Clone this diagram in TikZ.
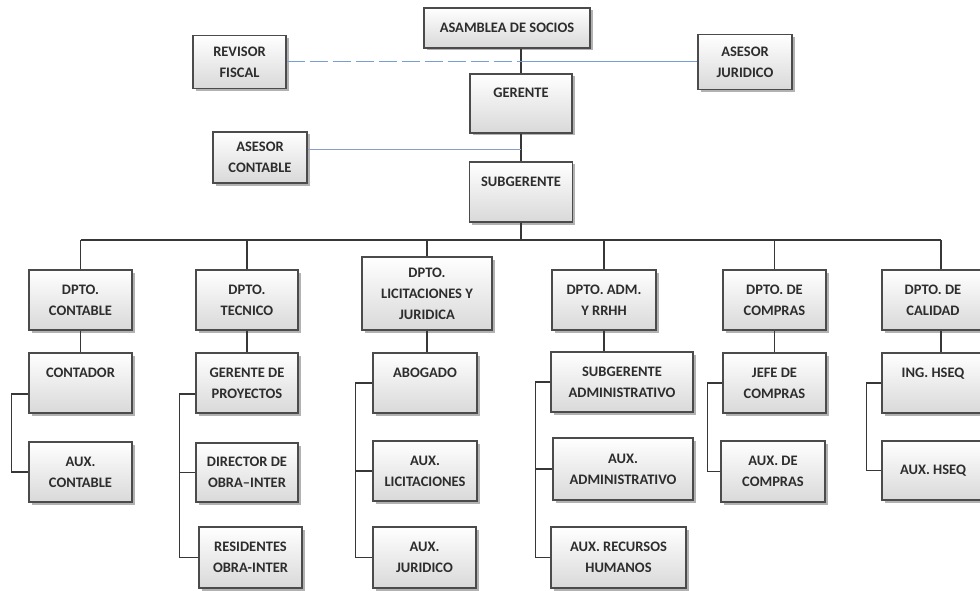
\documentclass[tikz,border=0pt]{standalone}
\usepackage{fontspec}
\setmainfont{Carlito}
\usetikzlibrary{shadows}
\definecolor{txt}{RGB}{45,45,45}
\definecolor{bord}{RGB}{75,75,75}
\definecolor{lnk}{RGB}{55,55,55}
\definecolor{linkblue}{RGB}{120,158,212}
\definecolor{linkgrey}{RGB}{140,158,200}
\begin{document}
\begin{tikzpicture}[x=1pt,y=-1pt,
  box/.style={draw=bord, line width=1.1pt, top color=white, bottom color=gray!30,
    drop shadow={shadow xshift=2.5pt, shadow yshift=-2.5pt, fill=black!55, opacity=.55},
    align=center, text=txt, inner sep=0pt,
    font=\bfseries\fontsize{14.5}{21}\selectfont},
  conn/.style={draw=lnk, line width=1.1pt},
  bluedash/.style={draw=linkblue, line width=1pt, dash pattern=on 18pt off 5pt},
  bluesolid/.style={draw=linkblue, line width=1pt},
  greyblue/.style={draw=linkgrey, line width=1pt}]
\useasboundingbox (0,0) rectangle (980,591);
\fill[white] (0,0) rectangle (980,591);

% top
\node[box, minimum width=166pt, minimum height=40pt] (asamblea) at (507,28) {ASAMBLEA DE SOCIOS};
\node[box, minimum width=93pt, minimum height=53pt] (revisor) at (239.5,62) {REVISOR\\FISCAL};
\node[box, minimum width=94pt, minimum height=55pt] (asesorj) at (745,62) {ASESOR\\JURIDICO};
\node[box, minimum width=102pt, minimum height=59pt] (gerente) at (521,103.5) {GERENTE\\\mbox{}};
\node[box, minimum width=94pt, minimum height=51pt] (asesorc) at (260,157.5) {ASESOR\\CONTABLE};
\node[box, minimum width=103pt, minimum height=60pt] (subgerente) at (521,192) {SUBGERENTE\\\mbox{}};

% departments
\node[box, minimum width=103pt, minimum height=60pt] (contable) at (80.5,300) {DPTO.\\CONTABLE};
\node[box, minimum width=102pt, minimum height=60pt] (tecnico) at (247,300) {DPTO.\\TECNICO};
\node[box, minimum width=130pt, minimum height=73pt] (licit) at (427,293.5) {DPTO.\\LICITACIONES Y\\JURIDICA};
\node[box, minimum width=104pt, minimum height=60pt] (adm) at (604,300) {DPTO. ADM.\\Y RRHH};
\node[box, minimum width=103pt, minimum height=60pt] (compras) at (774.5,300) {DPTO. DE\\COMPRAS};
\node[box, minimum width=102pt, minimum height=60pt] (calidad) at (933,300) {DPTO. DE\\CALIDAD};

% children
\node[box, minimum width=103pt, minimum height=60pt] (contador) at (80.5,383) {CONTADOR\\\mbox{}};
\node[box, minimum width=103pt, minimum height=60pt] (auxcont) at (80.5,472) {AUX.\\CONTABLE};
\node[box, minimum width=102pt, minimum height=60pt] (gp) at (247,383) {GERENTE DE\\PROYECTOS};
\node[box, minimum width=102pt, minimum height=59pt] (dir) at (247,472.5) {DIRECTOR DE\\OBRA--INTER};
\node[box, minimum width=103pt, minimum height=61pt] (res) at (250.5,557.5) {RESIDENTES\\OBRA-INTER};
\node[box, minimum width=104pt, minimum height=60pt] (abogado) at (425,383) {ABOGADO\\\mbox{}};
\node[box, minimum width=104pt, minimum height=60pt] (auxlic) at (425,471) {AUX.\\LICITACIONES};
\node[box, minimum width=103pt, minimum height=61pt] (auxjur) at (424.5,557.5) {AUX.\\JURIDICO};
\node[box, minimum width=142pt, minimum height=60pt] (subadm) at (622,382) {SUBGERENTE\\ADMINISTRATIVO};
\node[box, minimum width=140pt, minimum height=62pt] (auxadm) at (623,469) {AUX.\\ADMINISTRATIVO};
\node[box, minimum width=135pt, minimum height=61pt] (auxrh) at (618.5,557.5) {AUX. RECURSOS\\HUMANOS};
\node[box, minimum width=103pt, minimum height=60pt] (jefe) at (774.5,383) {JEFE DE\\COMPRAS};
\node[box, minimum width=104pt, minimum height=61pt] (auxcomp) at (773,471.5) {AUX. DE\\COMPRAS};
\node[box, minimum width=102pt, minimum height=60pt] (ing) at (933,383) {ING. HSEQ\\\mbox{}};
\node[box, minimum width=102pt, minimum height=59pt] (auxhseq) at (933,470.5) {AUX. HSEQ};

% top connectors
\draw[conn] (asamblea.south -| gerente.north) -- (gerente.north);
\draw[conn] (gerente.south) -- (subgerente.north);
\coordinate (rj) at (revisor.east -| gerente.north);
\draw[bluedash] (revisor.east) -- (rj);
\draw[bluesolid] (rj) -- (asesorj.west);
\coordinate (ac) at ([yshift=8pt]asesorc.east);
\draw[greyblue] (ac) -- (ac -| gerente.south);

% bus
\coordinate (bus) at (0,240);
\coordinate (calx) at ([xshift=8pt]calidad.north);
\draw[conn] (subgerente.south) -- (subgerente.south |- bus);
\draw[conn] (contable.north |- bus) -- (calx |- bus);
\draw[conn] (contable.north |- bus) -- (contable.north);
\draw[conn] (tecnico.north |- bus) -- (tecnico.north);
\draw[conn] (licit.north |- bus) -- (licit.north);
\draw[conn] (adm.north |- bus) -- (adm.north);
\draw[conn] (compras.north |- bus) -- (compras.north);
\draw[conn] (calx |- bus) -- (calx);

% dept to first child
\draw[conn] (contable.south) -- (contable.south |- contador.north);
\draw[conn] (tecnico.south) -- (tecnico.south |- gp.north);
\draw[conn] (licit.south) -- (licit.south |- abogado.north);
\draw[conn] (adm.south) -- (adm.south |- subadm.north);
\draw[conn] (compras.south) -- (compras.south |- jefe.north);
\draw[conn] (calx |- calidad.south) -- (calx |- ing.north);

% brackets
\coordinate (c1a) at ([yshift=-11pt]contador.west);
\draw[conn] (c1a) -- ++(-17,0) |- (auxcont.west);
\coordinate (c2a) at ([yshift=-11pt]gp.west);
\draw[conn] (c2a) -- ++(-16,0) coordinate (c2v) |- (res.west);
\draw[conn] (c2v |- dir.west) -- (dir.west);
\draw[conn] (abogado.west) -- ++(-17,0) coordinate (c3v) |- (auxjur.west);
\draw[conn] (c3v |- auxlic.west) -- (auxlic.west);
\draw[conn] (subadm.west) -- ++(-15,0) coordinate (c4v) |- (auxrh.west);
\draw[conn] (c4v |- auxadm.west) -- (auxadm.west);
\draw[conn] (jefe.west) -- ++(-15,0) |- (auxcomp.west);
\draw[conn] (ing.west) -- ++(-15,0) |- (auxhseq.west);
\end{tikzpicture}
\end{document}
